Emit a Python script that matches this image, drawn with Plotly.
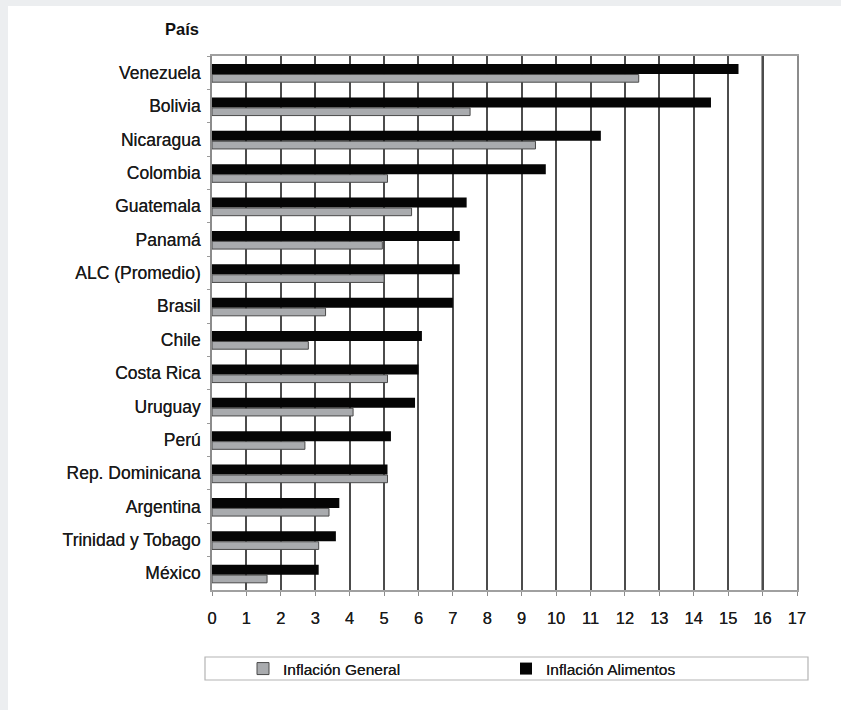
import plotly.graph_objects as go

# Inflación interanual por país (%), ordenado de mayor a menor inflación de alimentos
paises = ["Venezuela", "Bolivia", "Nicaragua", "Colombia", "Guatemala", "Panamá",
          "ALC (Promedio)", "Brasil", "Chile", "Costa Rica", "Uruguay", "Perú",
          "Rep. Dominicana", "Argentina", "Trinidad y Tobago", "México"]
inflacion_general = [12.4, 7.5, 9.4, 5.1, 5.8, 4.95, 5.0, 3.3, 2.8, 5.1, 4.1, 2.7,
                     5.1, 3.4, 3.1, 1.6]
inflacion_alimentos = [15.3, 14.5, 11.3, 9.7, 7.4, 7.2, 7.2, 7.0, 6.1, 6.0, 5.9, 5.2,
                       5.1, 3.7, 3.6, 3.1]
x_ticks = list(range(0, 18))

# page geometry (px) used to place decorations outside the plot area
W, H = 841, 710
L, R, T, B = 212, 44, 56, 120
PW, PH = W - L - R, H - T - B


def px_x(px):
    return (px - L) / PW


def px_y(py):
    return (H - B - py) / PH


FONT = "Liberation Sans, Arial, sans-serif"
INK = "#1a1a1a"
HALO = "0 0 0.6px #333333"

fig = go.Figure()
# food inflation: thicker black bar in the upper half of each row
fig.add_trace(go.Bar(
    y=paises, x=inflacion_alimentos, orientation="h", name="Inflación Alimentos",
    marker=dict(color="#050505", line=dict(width=0)),
    width=0.30, offset=-0.26, legendrank=2,
))
# general inflation: thinner outlined grey bar just below
fig.add_trace(go.Bar(
    y=paises, x=inflacion_general, orientation="h", name="Inflación General",
    marker=dict(color="#a9abae", line=dict(color="#4a4a4a", width=1)),
    width=0.23, offset=0.055, legendrank=1,
))

shapes = [
    # thin grey strips along the top and left page edges
    dict(type="rect", xref="paper", yref="paper", x0=px_x(0), x1=px_x(8),
         y0=px_y(H), y1=px_y(0), fillcolor="#eceef0", line=dict(width=0), layer="below"),
    dict(type="rect", xref="paper", yref="paper", x0=px_x(0), x1=px_x(W),
         y0=px_y(6), y1=px_y(0), fillcolor="#eceef0", line=dict(width=0), layer="below"),
    # legend frame
    dict(type="rect", xref="paper", yref="paper", x0=px_x(205), x1=px_x(808),
         y0=px_y(680), y1=px_y(657), line=dict(color="#b4b4b4", width=1.2),
         fillcolor="rgba(0,0,0,0)"),
    # darker reference line at 16
    dict(type="line", xref="x", yref="paper", x0=16, x1=16, y0=0, y1=1,
         line=dict(color="#111111", width=2), layer="below"),
]

fig.update_layout(
    width=W, height=H,
    margin=dict(l=L, r=R, t=T, b=B),
    paper_bgcolor="white", plot_bgcolor="white",
    barmode="overlay",
    font=dict(family=FONT, color=INK),
    shapes=shapes,
    showlegend=True,
    legend=dict(
        orientation="h", x=px_x(243), xanchor="left", y=px_y(669), yanchor="middle",
        entrywidth=218, entrywidthmode="pixels",
        font=dict(size=15.5, family=FONT, color=INK, shadow=HALO),
        bgcolor="rgba(0,0,0,0)", borderwidth=0,
    ),
    annotations=[
        dict(text="<b>País</b>", xref="paper", yref="paper", x=px_x(201), y=px_y(29),
             xanchor="right", yanchor="middle", showarrow=False,
             font=dict(size=16.5, family=FONT, color="#111111")),
    ],
    xaxis=dict(
        range=[0, 17], tickvals=x_ticks, ticktext=[str(v) for v in x_ticks],
        showgrid=True, gridcolor="#4c4c4c", gridwidth=1.6,
        zeroline=False, showline=True, linecolor="#a0a0a0", linewidth=1.5, mirror=True,
        ticks="outside", ticklen=4, tickcolor="#8a8a8a",
        ticklabelstandoff=8,
        tickfont=dict(size=16.5, family=FONT, color=INK, shadow=HALO),
        fixedrange=True,
    ),
    yaxis=dict(
        autorange="reversed", categoryorder="array", categoryarray=paises,
        showgrid=False, zeroline=False, showline=True, linecolor="#8c8c8c",
        linewidth=1.5, mirror=True,
        ticks="outside", tickson="boundaries", ticklen=3, tickcolor="#9a9a9a",
        ticklabelstandoff=6,
        tickfont=dict(size=17.5, family=FONT, color=INK, shadow=HALO),
        fixedrange=True,
    ),
)

fig.write_html("out.html")
